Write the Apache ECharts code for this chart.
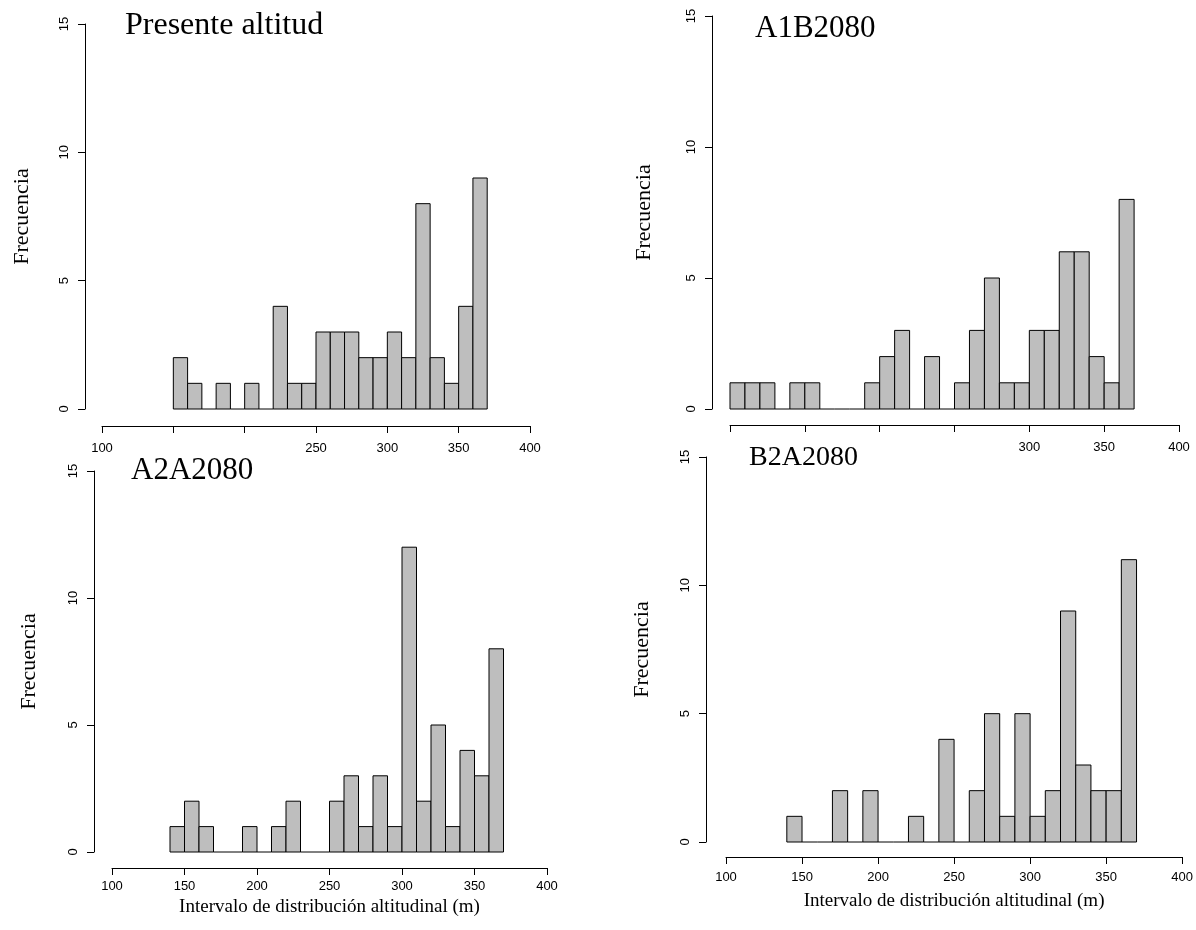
<!DOCTYPE html>
<html><head><meta charset="utf-8">
<script src="https://cdn.jsdelivr.net/npm/echarts@6/dist/echarts.min.js"></script>
<style>html,body{margin:0;padding:0;background:#fff}#chart{width:1196px;height:930px}</style>
</head><body><div id="chart"></div>
<script>
// ---- data ----
const panelTitles = ['Presente altitud', 'A1B2080', 'A2A2080', 'B2A2080'];
const yAxisTitle = 'Frecuencia';
const xAxisTitle = 'Intervalo de distribución altitudinal (m)';
const binWidth = 10;
const xTickValues = [100, 150, 200, 250, 300, 350, 400];
const xLabelsPresente = ['100', '', '', '250', '300', '350', '400'];
const xLabelsA1B = ['', '', '', '', '300', '350', '400'];
const xLabelsA2A = ['100', '150', '200', '250', '300', '350', '400'];
const xLabelsB2A = ['100', '150', '200', '250', '300', '350', '400'];

const presenteBins = [150,160,170,180,190,200,210,220,230,240,250,260,270,280,290,300,310,320,330,340,350,360];
const presenteCounts = [2,1,0,1,0,1,0,4,1,1,3,3,3,2,2,3,2,8,2,1,4,9];

const a1bBins = [100,110,120,130,140,150,160,170,180,190,200,210,220,230,240,250,260,270,280,290,300,310,320,330,340,350,360];
const a1bCounts = [1,1,1,0,1,1,0,0,0,1,2,3,0,2,0,1,3,5,1,1,3,3,6,6,2,1,8];

const a2aBins = [140,150,160,170,180,190,200,210,220,230,240,250,260,270,280,290,300,310,320,330,340,350,360];
const a2aCounts = [1,2,1,0,0,1,0,1,2,0,0,2,3,1,3,1,12,2,5,1,4,3,8];

const b2aBins = [140,150,160,170,180,190,200,210,220,230,240,250,260,270,280,290,300,310,320,330,340,350,360];
const b2aCounts = [1,0,0,2,0,2,0,0,1,0,4,0,2,5,1,5,1,2,9,3,2,2,11];

// ---- layout ----
const panels = [
  {bins: presenteBins, counts: presenteCounts, xLabels: xLabelsPresente, showXName: false,
   grid: {left: 102, top: 24, width: 428, height: 385}, yOff: 17, xOff: 17, yGap: 52, xGap: 30, xMargin: 16,
   title: {left: 125, top: 10, size: 32}},
  {bins: a1bBins, counts: a1bCounts, xLabels: xLabelsA1B, showXName: false,
   grid: {left: 730, top: 16, width: 449, height: 393}, yOff: 18, xOff: 16, yGap: 57, xGap: 30, xMargin: 16,
   title: {left: 755, top: 13, size: 31}},
  {bins: a2aBins, counts: a2aCounts, xLabels: xLabelsA2A, showXName: true,
   grid: {left: 112, top: 471, width: 435, height: 381}, yOff: 18, xOff: 16, yGap: 54, xGap: 30, xMargin: 12,
   title: {left: 131, top: 455, size: 31}},
  {bins: b2aBins, counts: b2aCounts, xLabels: xLabelsB2A, showXName: true,
   grid: {left: 726, top: 457, width: 459, height: 385}, yOff: 20, xOff: 15, yGap: 53, xGap: 35, xMargin: 14,
   title: {left: 749, top: 444, size: 28}}
];

const sans = "'Liberation Sans', Arial, sans-serif";
const serif = "'Liberation Serif', 'Times New Roman', serif";
const axisColor = '#000';

const grids = [], xAxes = [], yAxes = [], series = [], titles = [];
panels.forEach((p, i) => {
  grids.push(Object.assign({containLabel: false}, p.grid));
  titles.push({text: panelTitles[i], left: p.title.left, top: p.title.top, padding: 0,
    textStyle: {fontFamily: serif, fontSize: p.title.size, fontWeight: 'normal', color: '#000'}});
  xAxes.push({
    type: 'value', gridIndex: i, min: 100, max: 400, interval: 50, position: 'bottom', offset: p.xOff,
    axisLine: {show: true, onZero: false, lineStyle: {color: axisColor, width: 1}},
    axisTick: {show: true, length: 7, lineStyle: {color: axisColor}},
    splitLine: {show: false},
    axisLabel: {margin: p.xMargin, fontFamily: sans, fontSize: 13, color: '#000',
      formatter: v => { const k = xTickValues.indexOf(v); return k >= 0 ? p.xLabels[k] : ''; }},
    name: p.showXName ? xAxisTitle : '', nameLocation: 'middle', nameGap: p.xGap,
    nameTextStyle: {fontFamily: serif, fontSize: 19, color: '#000'}
  });
  yAxes.push({
    type: 'value', gridIndex: i, min: 0, max: 15, interval: 5, position: 'left', offset: p.yOff,
    axisLine: {show: true, lineStyle: {color: axisColor, width: 1}},
    axisTick: {show: true, length: 7, lineStyle: {color: axisColor}},
    splitLine: {show: false},
    axisLabel: {margin: 14, rotate: 90, fontFamily: sans, fontSize: 13, color: '#000'},
    name: yAxisTitle, nameLocation: 'middle', nameGap: p.yGap,
    nameTextStyle: {fontFamily: serif, fontSize: 22, color: '#000'}
  });
  series.push({
    type: 'custom', xAxisIndex: i, yAxisIndex: i, silent: true, clip: false,
    data: p.bins.map((b, k) => [b, b + binWidth, p.counts[k]]),
    encode: {x: [0, 1], y: 2},
    renderItem: (params, api) => {
      const lo = api.value(0), hi = api.value(1), c = api.value(2);
      const p0 = api.coord([lo, 0]), p1 = api.coord([hi, c]);
      if (c === 0) {
        return {type: 'line', shape: {x1: p0[0], y1: p0[1], x2: p1[0], y2: p0[1]},
          style: {stroke: '#000', lineWidth: 1}};
      }
      return {type: 'rect', shape: {x: p0[0], y: p1[1], width: p1[0] - p0[0], height: p0[1] - p1[1]},
        style: {fill: '#bebebe', stroke: '#000', lineWidth: 1}};
    }
  });
});

const chart = echarts.init(document.getElementById('chart'), null, {renderer: 'canvas'});
chart.setOption({
  animation: false,
  backgroundColor: '#fff',
  title: titles,
  grid: grids,
  xAxis: xAxes,
  yAxis: yAxes,
  series: series
});
</script>
</body></html>
